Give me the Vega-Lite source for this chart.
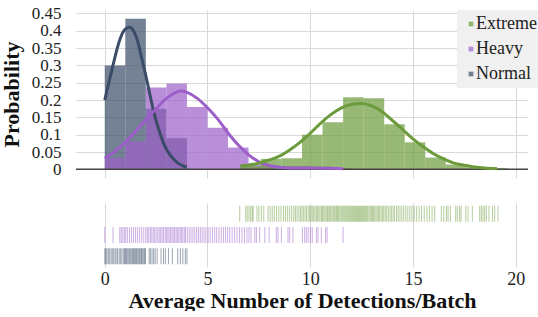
{
  "$schema": "https://vega.github.io/schema/vega-lite/v6.json",
  "padding": {"left": 0, "top": 4, "right": 0, "bottom": 0},
  "background": "white",
  "config": {
    "font": "Liberation Serif",
    "view": {"stroke": null},
    "axis": {"labelFont": "Liberation Serif", "titleFont": "Liberation Serif", "labelFontSize": 18, "titleFontSize": 22, "labelColor": "#222222", "titleColor": "#111111", "gridColor": "#d9d9d9", "gridWidth": 1, "domain": false, "ticks": false, "labelOverlap": false},
    "axisY": {"labelOverlap": false, "labelFontSize": 17},
    "legend": {"orient": "none", "legendX": 381, "legendY": 0, "fillColor": "#f0f0f0", "padding": 5, "symbolType": "square", "symbolSize": 22, "symbolStrokeWidth": 0, "labelFont": "Liberation Serif", "labelFontSize": 18, "labelColor": "#222222", "labelOffset": -4, "rowPadding": 7, "title": null},
    "concat": {"spacing": 25}
  },
  "resolve": {"legend": {"color": "independent"}},
  "datasets": {
    "bins": [
      {"g": "Normal", "a": 0, "b": 1, "p": 0.30},
      {"g": "Normal", "a": 1, "b": 2, "p": 0.435},
      {"g": "Normal", "a": 2, "b": 3, "p": 0.175},
      {"g": "Normal", "a": 3, "b": 4, "p": 0.09},
      {"g": "Heavy", "a": 0, "b": 1, "p": 0.033},
      {"g": "Heavy", "a": 1, "b": 2, "p": 0.08},
      {"g": "Heavy", "a": 2, "b": 3, "p": 0.236},
      {"g": "Heavy", "a": 3, "b": 4, "p": 0.248},
      {"g": "Heavy", "a": 4, "b": 5, "p": 0.18},
      {"g": "Heavy", "a": 5, "b": 6, "p": 0.12},
      {"g": "Heavy", "a": 6, "b": 7, "p": 0.063},
      {"g": "Heavy", "a": 7, "b": 8, "p": 0.018},
      {"g": "Heavy", "a": 8, "b": 9, "p": 0.01},
      {"g": "Heavy", "a": 9, "b": 10, "p": 0.01},
      {"g": "Heavy", "a": 10, "b": 11, "p": 0.008},
      {"g": "Heavy", "a": 11, "b": 12, "p": 0.003},
      {"g": "Extreme", "a": 6.6, "b": 7.6, "p": 0.01},
      {"g": "Extreme", "a": 7.6, "b": 8.6, "p": 0.03},
      {"g": "Extreme", "a": 8.6, "b": 9.6, "p": 0.032},
      {"g": "Extreme", "a": 9.6, "b": 10.6, "p": 0.10},
      {"g": "Extreme", "a": 10.6, "b": 11.6, "p": 0.136},
      {"g": "Extreme", "a": 11.6, "b": 12.6, "p": 0.208},
      {"g": "Extreme", "a": 12.6, "b": 13.6, "p": 0.205},
      {"g": "Extreme", "a": 13.6, "b": 14.6, "p": 0.13},
      {"g": "Extreme", "a": 14.6, "b": 15.6, "p": 0.078},
      {"g": "Extreme", "a": 15.6, "b": 16.6, "p": 0.034},
      {"g": "Extreme", "a": 16.6, "b": 17.6, "p": 0.014},
      {"g": "Extreme", "a": 17.6, "b": 18.6, "p": 0.006},
      {"g": "Extreme", "a": 18.6, "b": 19.6, "p": 0.004}
    ],
    "curves": [
      {"g": "Normal", "x": 0, "y": 0.2},
      {"g": "Normal", "x": 0.2, "y": 0.25},
      {"g": "Normal", "x": 0.4, "y": 0.3},
      {"g": "Normal", "x": 0.6, "y": 0.348},
      {"g": "Normal", "x": 0.8, "y": 0.385},
      {"g": "Normal", "x": 1.0, "y": 0.405},
      {"g": "Normal", "x": 1.2, "y": 0.41},
      {"g": "Normal", "x": 1.4, "y": 0.4},
      {"g": "Normal", "x": 1.6, "y": 0.37},
      {"g": "Normal", "x": 1.8, "y": 0.32},
      {"g": "Normal", "x": 2.0, "y": 0.27},
      {"g": "Normal", "x": 2.2, "y": 0.215},
      {"g": "Normal", "x": 2.4, "y": 0.162},
      {"g": "Normal", "x": 2.6, "y": 0.12},
      {"g": "Normal", "x": 2.8, "y": 0.085},
      {"g": "Normal", "x": 3.0, "y": 0.058},
      {"g": "Normal", "x": 3.2, "y": 0.04},
      {"g": "Normal", "x": 3.5, "y": 0.021},
      {"g": "Normal", "x": 3.8, "y": 0.01},
      {"g": "Normal", "x": 4.0, "y": 0.006},
      {"g": "Heavy", "x": 0, "y": 0.032},
      {"g": "Heavy", "x": 0.5, "y": 0.052},
      {"g": "Heavy", "x": 1.0, "y": 0.078},
      {"g": "Heavy", "x": 1.5, "y": 0.11},
      {"g": "Heavy", "x": 2.0, "y": 0.143},
      {"g": "Heavy", "x": 2.5, "y": 0.175},
      {"g": "Heavy", "x": 3.0, "y": 0.205},
      {"g": "Heavy", "x": 3.5, "y": 0.223},
      {"g": "Heavy", "x": 3.7, "y": 0.226},
      {"g": "Heavy", "x": 4.0, "y": 0.222},
      {"g": "Heavy", "x": 4.5, "y": 0.205},
      {"g": "Heavy", "x": 5.0, "y": 0.178},
      {"g": "Heavy", "x": 5.5, "y": 0.145},
      {"g": "Heavy", "x": 6.0, "y": 0.105},
      {"g": "Heavy", "x": 6.5, "y": 0.07},
      {"g": "Heavy", "x": 7.0, "y": 0.042},
      {"g": "Heavy", "x": 7.5, "y": 0.022},
      {"g": "Heavy", "x": 8.0, "y": 0.011},
      {"g": "Heavy", "x": 8.5, "y": 0.006},
      {"g": "Heavy", "x": 9.0, "y": 0.004},
      {"g": "Heavy", "x": 10.0, "y": 0.004},
      {"g": "Heavy", "x": 11.0, "y": 0.003},
      {"g": "Heavy", "x": 11.6, "y": 0.002},
      {"g": "Extreme", "x": 6.6, "y": 0.01},
      {"g": "Extreme", "x": 7.0, "y": 0.012},
      {"g": "Extreme", "x": 7.5, "y": 0.018},
      {"g": "Extreme", "x": 8.0, "y": 0.027},
      {"g": "Extreme", "x": 8.5, "y": 0.038},
      {"g": "Extreme", "x": 9.0, "y": 0.056},
      {"g": "Extreme", "x": 9.5, "y": 0.078},
      {"g": "Extreme", "x": 10.0, "y": 0.104},
      {"g": "Extreme", "x": 10.5, "y": 0.133},
      {"g": "Extreme", "x": 11.0, "y": 0.158},
      {"g": "Extreme", "x": 11.5, "y": 0.177},
      {"g": "Extreme", "x": 12.0, "y": 0.187},
      {"g": "Extreme", "x": 12.5, "y": 0.19},
      {"g": "Extreme", "x": 13.0, "y": 0.183},
      {"g": "Extreme", "x": 13.5, "y": 0.166},
      {"g": "Extreme", "x": 14.0, "y": 0.141},
      {"g": "Extreme", "x": 14.5, "y": 0.115},
      {"g": "Extreme", "x": 15.0, "y": 0.088},
      {"g": "Extreme", "x": 15.5, "y": 0.065},
      {"g": "Extreme", "x": 16.0, "y": 0.045},
      {"g": "Extreme", "x": 16.5, "y": 0.03},
      {"g": "Extreme", "x": 17.0, "y": 0.018},
      {"g": "Extreme", "x": 17.5, "y": 0.012},
      {"g": "Extreme", "x": 18.0, "y": 0.007},
      {"g": "Extreme", "x": 18.5, "y": 0.004},
      {"g": "Extreme", "x": 19.1, "y": 0.002}
    ],
    "rug": [
      {"g":"Normal","v":0.0},{"g":"Normal","v":0.05},{"g":"Normal","v":0.1},{"g":"Normal","v":0.17},{"g":"Normal","v":0.22},{"g":"Normal","v":0.3},{"g":"Normal","v":0.36},{"g":"Normal","v":0.42},{"g":"Normal","v":0.5},{"g":"Normal","v":0.55},{"g":"Normal","v":0.62},{"g":"Normal","v":0.7},{"g":"Normal","v":0.76},{"g":"Normal","v":0.83},{"g":"Normal","v":0.9},{"g":"Normal","v":0.96},
      {"g":"Normal","v":1.0},{"g":"Normal","v":1.04},{"g":"Normal","v":1.08},{"g":"Normal","v":1.13},{"g":"Normal","v":1.18},{"g":"Normal","v":1.22},{"g":"Normal","v":1.27},{"g":"Normal","v":1.32},{"g":"Normal","v":1.36},{"g":"Normal","v":1.4},{"g":"Normal","v":1.45},{"g":"Normal","v":1.5},{"g":"Normal","v":1.54},{"g":"Normal","v":1.58},{"g":"Normal","v":1.63},{"g":"Normal","v":1.68},{"g":"Normal","v":1.72},{"g":"Normal","v":1.77},{"g":"Normal","v":1.8},{"g":"Normal","v":1.85},{"g":"Normal","v":1.9},{"g":"Normal","v":1.94},{"g":"Normal","v":1.98},
      {"g":"Normal","v":2.16},{"g":"Normal","v":2.22},{"g":"Normal","v":2.3},{"g":"Normal","v":2.38},{"g":"Normal","v":2.45},{"g":"Normal","v":2.55},{"g":"Normal","v":2.74},{"g":"Normal","v":2.86},{"g":"Normal","v":2.95},{"g":"Normal","v":3.1},{"g":"Normal","v":3.29},{"g":"Normal","v":3.55},{"g":"Normal","v":3.68},{"g":"Normal","v":3.8},{"g":"Normal","v":3.92},{"g":"Normal","v":4.0},
      {"g":"Heavy","v":0.0},{"g":"Heavy","v":0.4},{"g":"Heavy","v":0.73},{"g":"Heavy","v":0.8},{"g":"Heavy","v":0.88},{"g":"Heavy","v":0.95},
      {"g":"Heavy","v":1.02},{"g":"Heavy","v":1.1},{"g":"Heavy","v":1.2},{"g":"Heavy","v":1.3},{"g":"Heavy","v":1.4},{"g":"Heavy","v":1.5},{"g":"Heavy","v":1.6},{"g":"Heavy","v":1.7},{"g":"Heavy","v":1.8},{"g":"Heavy","v":1.9},
      {"g":"Heavy","v":2.0},{"g":"Heavy","v":2.07},{"g":"Heavy","v":2.14},{"g":"Heavy","v":2.22},{"g":"Heavy","v":2.29},{"g":"Heavy","v":2.36},{"g":"Heavy","v":2.43},{"g":"Heavy","v":2.5},{"g":"Heavy","v":2.58},{"g":"Heavy","v":2.65},{"g":"Heavy","v":2.72},{"g":"Heavy","v":2.79},{"g":"Heavy","v":2.86},{"g":"Heavy","v":2.94},
      {"g":"Heavy","v":3.0},{"g":"Heavy","v":3.07},{"g":"Heavy","v":3.13},{"g":"Heavy","v":3.2},{"g":"Heavy","v":3.27},{"g":"Heavy","v":3.33},{"g":"Heavy","v":3.4},{"g":"Heavy","v":3.47},{"g":"Heavy","v":3.53},{"g":"Heavy","v":3.6},{"g":"Heavy","v":3.67},{"g":"Heavy","v":3.73},{"g":"Heavy","v":3.8},{"g":"Heavy","v":3.87},{"g":"Heavy","v":3.93},
      {"g":"Heavy","v":4.02},{"g":"Heavy","v":4.11},{"g":"Heavy","v":4.2},{"g":"Heavy","v":4.29},{"g":"Heavy","v":4.38},{"g":"Heavy","v":4.47},{"g":"Heavy","v":4.56},{"g":"Heavy","v":4.65},{"g":"Heavy","v":4.74},{"g":"Heavy","v":4.83},{"g":"Heavy","v":4.92},
      {"g":"Heavy","v":5.03},{"g":"Heavy","v":5.13},{"g":"Heavy","v":5.24},{"g":"Heavy","v":5.35},{"g":"Heavy","v":5.45},{"g":"Heavy","v":5.56},{"g":"Heavy","v":5.67},{"g":"Heavy","v":5.78},{"g":"Heavy","v":5.88},{"g":"Heavy","v":5.98},
      {"g":"Heavy","v":6.08},{"g":"Heavy","v":6.2},{"g":"Heavy","v":6.32},{"g":"Heavy","v":6.44},{"g":"Heavy","v":6.56},{"g":"Heavy","v":6.68},{"g":"Heavy","v":6.8},{"g":"Heavy","v":6.92},{"g":"Heavy","v":7.02},{"g":"Heavy","v":7.12},
      {"g":"Heavy","v":7.3},{"g":"Heavy","v":7.38},{"g":"Heavy","v":7.54},{"g":"Heavy","v":7.79},{"g":"Heavy","v":8.0},{"g":"Heavy","v":8.35},{"g":"Heavy","v":8.43},{"g":"Heavy","v":8.6},{"g":"Heavy","v":8.92},{"g":"Heavy","v":9.0},{"g":"Heavy","v":9.16},{"g":"Heavy","v":9.62},{"g":"Heavy","v":9.73},{"g":"Heavy","v":9.81},{"g":"Heavy","v":9.9},{"g":"Heavy","v":10.01},{"g":"Heavy","v":10.1},{"g":"Heavy","v":10.3},{"g":"Heavy","v":10.38},{"g":"Heavy","v":10.54},{"g":"Heavy","v":10.75},{"g":"Heavy","v":10.82},{"g":"Heavy","v":11.6},
      {"g":"Extreme","v":6.57},{"g":"Extreme","v":6.86},{"g":"Extreme","v":6.93},{"g":"Extreme","v":7.02},{"g":"Extreme","v":7.1},{"g":"Extreme","v":7.18},{"g":"Extreme","v":7.22},{"g":"Extreme","v":7.41},{"g":"Extreme","v":7.5},{"g":"Extreme","v":7.62},{"g":"Extreme","v":7.74},
      {"g":"Extreme","v":7.95},{"g":"Extreme","v":8.05},{"g":"Extreme","v":8.15},{"g":"Extreme","v":8.25},{"g":"Extreme","v":8.36},{"g":"Extreme","v":8.47},{"g":"Extreme","v":8.58},{"g":"Extreme","v":8.7},{"g":"Extreme","v":8.8},{"g":"Extreme","v":8.9},{"g":"Extreme","v":9.0},{"g":"Extreme","v":9.1},{"g":"Extreme","v":9.2},{"g":"Extreme","v":9.28},{"g":"Extreme","v":9.36},{"g":"Extreme","v":9.45},{"g":"Extreme","v":9.53},{"g":"Extreme","v":9.6},{"g":"Extreme","v":9.68},{"g":"Extreme","v":9.75},{"g":"Extreme","v":9.82},{"g":"Extreme","v":9.9},{"g":"Extreme","v":9.97},
      {"g":"Extreme","v":10.04},{"g":"Extreme","v":10.1},{"g":"Extreme","v":10.17},{"g":"Extreme","v":10.23},{"g":"Extreme","v":10.3},{"g":"Extreme","v":10.36},{"g":"Extreme","v":10.42},{"g":"Extreme","v":10.48},{"g":"Extreme","v":10.55},{"g":"Extreme","v":10.6},{"g":"Extreme","v":10.66},{"g":"Extreme","v":10.72},{"g":"Extreme","v":10.78},{"g":"Extreme","v":10.84},{"g":"Extreme","v":10.9},{"g":"Extreme","v":10.95},
      {"g":"Extreme","v":11.0},{"g":"Extreme","v":11.06},{"g":"Extreme","v":11.12},{"g":"Extreme","v":11.17},{"g":"Extreme","v":11.22},{"g":"Extreme","v":11.28},{"g":"Extreme","v":11.33},{"g":"Extreme","v":11.38},{"g":"Extreme","v":11.44},{"g":"Extreme","v":11.5},{"g":"Extreme","v":11.55},{"g":"Extreme","v":11.6},{"g":"Extreme","v":11.65},{"g":"Extreme","v":11.7},{"g":"Extreme","v":11.75},{"g":"Extreme","v":11.8},{"g":"Extreme","v":11.85},{"g":"Extreme","v":11.9},{"g":"Extreme","v":11.95},
      {"g":"Extreme","v":12.0},{"g":"Extreme","v":12.05},{"g":"Extreme","v":12.1},{"g":"Extreme","v":12.15},{"g":"Extreme","v":12.2},{"g":"Extreme","v":12.25},{"g":"Extreme","v":12.3},{"g":"Extreme","v":12.35},{"g":"Extreme","v":12.4},{"g":"Extreme","v":12.45},{"g":"Extreme","v":12.5},{"g":"Extreme","v":12.55},{"g":"Extreme","v":12.6},{"g":"Extreme","v":12.65},{"g":"Extreme","v":12.7},{"g":"Extreme","v":12.75},{"g":"Extreme","v":12.8},{"g":"Extreme","v":12.86},{"g":"Extreme","v":12.92},{"g":"Extreme","v":12.97},
      {"g":"Extreme","v":13.03},{"g":"Extreme","v":13.08},{"g":"Extreme","v":13.14},{"g":"Extreme","v":13.2},{"g":"Extreme","v":13.26},{"g":"Extreme","v":13.32},{"g":"Extreme","v":13.38},{"g":"Extreme","v":13.45},{"g":"Extreme","v":13.52},{"g":"Extreme","v":13.58},{"g":"Extreme","v":13.65},{"g":"Extreme","v":13.72},{"g":"Extreme","v":13.8},{"g":"Extreme","v":13.88},{"g":"Extreme","v":13.95},
      {"g":"Extreme","v":14.03},{"g":"Extreme","v":14.1},{"g":"Extreme","v":14.2},{"g":"Extreme","v":14.28},{"g":"Extreme","v":14.37},{"g":"Extreme","v":14.46},{"g":"Extreme","v":14.55},{"g":"Extreme","v":14.65},{"g":"Extreme","v":14.75},{"g":"Extreme","v":14.85},{"g":"Extreme","v":14.95},
      {"g":"Extreme","v":15.06},{"g":"Extreme","v":15.18},{"g":"Extreme","v":15.3},{"g":"Extreme","v":15.42},{"g":"Extreme","v":15.55},{"g":"Extreme","v":15.68},{"g":"Extreme","v":15.8},{"g":"Extreme","v":15.93},{"g":"Extreme","v":16.06},
      {"g":"Extreme","v":16.38},{"g":"Extreme","v":16.5},{"g":"Extreme","v":16.63},{"g":"Extreme","v":16.71},{"g":"Extreme","v":16.82},{"g":"Extreme","v":17.08},{"g":"Extreme","v":17.16},{"g":"Extreme","v":17.27},{"g":"Extreme","v":17.34},{"g":"Extreme","v":17.57},{"g":"Extreme","v":17.68},{"g":"Extreme","v":17.89},{"g":"Extreme","v":18.25},{"g":"Extreme","v":18.33},{"g":"Extreme","v":18.41},{"g":"Extreme","v":18.49},{"g":"Extreme","v":18.57},{"g":"Extreme","v":18.7},{"g":"Extreme","v":18.87},{"g":"Extreme","v":18.98},{"g":"Extreme","v":19.14}
    ]
  },
  "vconcat": [
    {
      "width": 452,
      "height": 168,
      "resolve": {"legend": {"color": "independent"}},
      "layer": [
        {
          "data": {"name": "bins"},
          "mark": {"type": "bar", "opacity": 0.7},
          "encoding": {
            "x": {"field": "a", "type": "quantitative", "scale": {"domain": [-1.4, 20.6], "nice": false, "zero": false}, "axis": {"values": [0, 5, 10, 15, 20], "labels": false, "title": null, "grid": true}},
            "x2": {"field": "b"},
            "y": {"field": "p", "type": "quantitative", "scale": {"domain": [-0.025, 0.46], "nice": false, "zero": false}, "axis": {"values": [0, 0.05, 0.1, 0.15, 0.2, 0.25, 0.3, 0.35, 0.4, 0.45], "format": ".2~f", "labelOverlap": false, "labelFontSize": 17, "title": "Probability", "titleFontWeight": "bold", "labelPadding": 15, "titlePadding": 8, "grid": true}},
            "y2": {"datum": 0},
            "color": {"field": "g", "type": "nominal", "scale": {"domain": ["Extreme", "Heavy", "Normal"], "range": ["#6b9b3a", "#9c5fc9", "#3a4c68"]}, "legend": {"orient": "none", "legendX": 381, "legendY": 0}}
          }
        },
        {
          "data": {"values": [{}]},
          "mark": {"type": "rule", "color": "#444444", "strokeWidth": 1.5},
          "encoding": {"y": {"datum": 0, "type": "quantitative", "axis": {"values": [0, 0.05, 0.1, 0.15, 0.2, 0.25, 0.3, 0.35, 0.4, 0.45], "format": ".2~f", "labelOverlap": false, "labelFontSize": 17, "title": "Probability", "titleFontWeight": "bold", "labelPadding": 15, "titlePadding": 8, "grid": true}}}
        },
        {
          "data": {"name": "curves"},
          "mark": {"type": "line", "strokeWidth": 3, "interpolate": "monotone"},
          "encoding": {
            "x": {"field": "x", "type": "quantitative", "axis": {"values": [0, 5, 10, 15, 20], "labels": false, "title": null, "grid": true}},
            "y": {"field": "y", "type": "quantitative", "axis": {"values": [0, 0.05, 0.1, 0.15, 0.2, 0.25, 0.3, 0.35, 0.4, 0.45], "format": ".2~f", "labelOverlap": false, "labelFontSize": 17, "title": "Probability", "titleFontWeight": "bold", "labelPadding": 15, "titlePadding": 8, "grid": true}},
            "color": {"field": "g", "type": "nominal", "legend": null}
          }
        }
      ]
    },
    {
      "width": 452,
      "height": 64,
      "data": {"name": "rug"},
      "mark": {"type": "tick", "thickness": 1, "size": 16, "opacity": 0.5},
      "encoding": {
        "x": {"field": "v", "type": "quantitative", "scale": {"domain": [-1.4, 20.6], "nice": false, "zero": false}, "axis": {"values": [0, 5, 10, 15, 20], "title": "Average Number of Detections/Batch", "titleFontWeight": "bold", "labelPadding": 3, "titlePadding": 2, "grid": true}},
        "y": {"field": "g", "type": "nominal", "sort": ["Extreme", "Heavy", "Normal"], "axis": null},
        "color": {"field": "g", "type": "nominal", "legend": null}
      }
    }
  ]
}
